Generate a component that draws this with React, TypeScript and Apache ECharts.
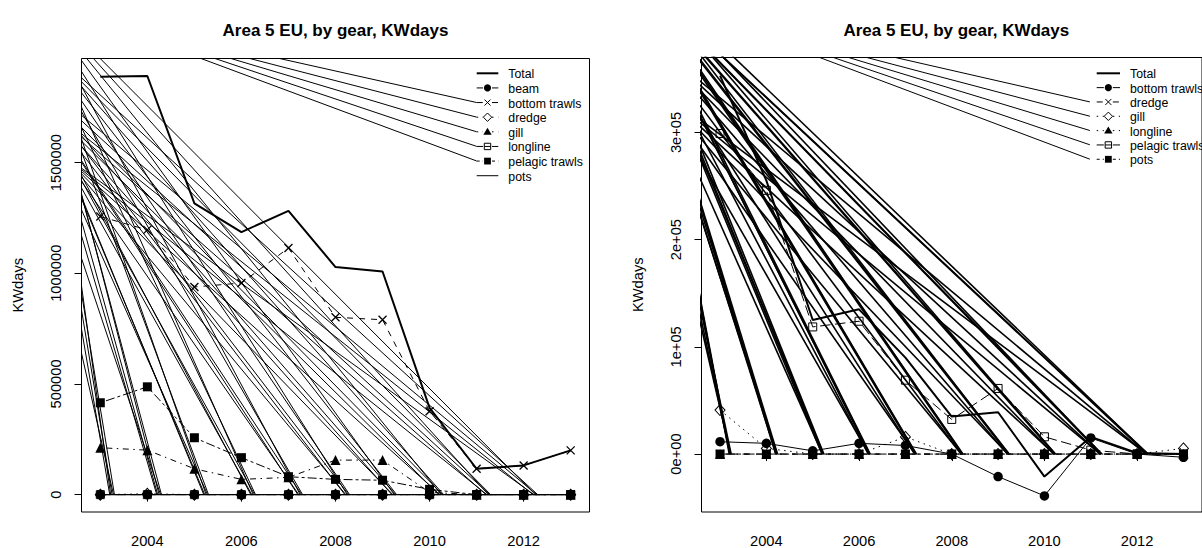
import React, { useEffect, useRef } from "react";
import * as echarts from "echarts";

// ---------- data ----------
const years = [2003, 2004, 2005, 2006, 2007, 2008, 2009, 2010, 2011, 2012, 2013];
const xTicks = [2004, 2006, 2008, 2010, 2012];
const chartTitle = "Area 5 EU, by gear, KWdays";
const yAxisTitle = "KWdays";

// left panel
const leftGears = ["Total", "beam", "bottom trawls", "dredge", "gill", "longline", "pelagic trawls", "pots"];
const leftTotal = [1888000, 1891000, 1316000, 1186000, 1282000, 1028000, 1008000, 392000, 117000, 132000, 200000];
const leftBeam = [0, 0, 0, 0, 0, 0, 0, 0, 0, 0, 0];
const leftBottomTrawls = [1256000, 1196000, 938000, 956000, 1114000, 801000, 790000, 377000, 117000, 132000, 200000];
const leftDredge = [0, 4000, 0, 0, 0, 0, 0, 0, 0, 0, 0];
const leftGill = [212000, 201000, 117000, 69000, 78000, 156000, 156000, 10000, 0, 0, 0];
const leftLongline = [0, 0, 0, 0, 0, 0, 0, 0, 0, 0, 0];
const leftPelagic = [415000, 487000, 257000, 167000, 81000, 69000, 65000, 24000, 0, 0, 0];
const leftPots = [0, 0, 0, 0, 0, 0, 0, 0, 0, 0, 0];
const leftYTicks = [0, 500000, 1000000, 1500000];
const leftYTickLabels = ["0", "500000", "1000000", "1500000"];

// right panel
const rightGears = ["Total", "bottom trawls", "dredge", "gill", "longline", "pelagic trawls", "pots"];
const rightTotal = [353000, 255000, 125000, 135000, 90000, 35000, 39000, -21000, 16000, 1000, 0];
const rightBottomTrawls = [11500, 10000, 3000, 10000, 8000, 0, -21000, -39000, 15000, 0, -3000];
const rightDredge = [0, 0, 0, 0, 0, 0, 0, 0, 0, 0, 0];
const rightGill = [41000, 5300, 0, 0, 16000, 0, 0, 0, 0, 0, 5300];
const rightLongline = [0, 0, 0, 0, 0, 0, 0, 0, 0, 0, 0];
const rightPelagic = [299000, 246000, 118600, 123900, 68900, 32300, 61200, 16100, 3700, 0, 0];
const rightPots = [0, 0, 0, 0, 0, 0, 0, 0, 0, 0, 0];
const rightYTicks = [0, 100000, 200000, 300000];
const rightYTickLabels = ["0e+00", "1e+05", "2e+05", "3e+05"];

// stray connector lines seen in the picture (data coordinates)
const fanEndYears = [2003, 2004, 2005, 2006, 2007, 2008, 2009, 2010, 2011, 2012];
const leftFanEndOffsets = [0.25, 0.3, 0.2, 0.22, 0.28];
const rightFanEndOffsets = [0.22, 0.24, 0.2, 0.23, 0.21];
const leftFanOrigins = [
  [2001.46, 2297100],
  [2001.72, 2053500],
  [2001.78, 1769200],
  [2002.21, 1534600],
  [2001.19, 1963200],
];
const leftLegendOrigins = [
  [2001.82, 2206900],
  [2001.29, 2238400],
  [2001.61, 2233900],
  [2000.98, 2288100],
  [2001.4, 2265600],
];
const leftFanLegendEnds = [
  [2011.0, 1771200],
  [2011.0, 1705200],
  [2011.0, 1639200],
  [2011.0, 1573200],
  [2011.0, 1507200],
];
const rightFanOrigins = [
  [2000.94, 456100],
  [2001.04, 452300],
  [2001.51, 386200],
  [2000.66, 479400],
  [2001.72, 339600],
];
const rightLegendOrigins = [
  [2001.83, 418800],
  [2001.3, 425300],
  [2001.61, 424400],
  [2000.98, 435600],
  [2001.4, 430900],
];
const rightFanLegendEnds = [
  [2010.98, 328460],
  [2010.98, 315100],
  [2010.98, 301780],
  [2010.98, 288460],
  [2010.98, 275040],
];

// ---------- styles ----------
const FONT = '"Liberation Sans", Arial, Helvetica, sans-serif';
const lineDashes: any[] = ["solid", "solid", [6, 6], [1.5, 4.5], [1.5, 4.5, 6, 4.5], [10.5, 4.5], [3, 3, 9, 3], "solid"];
const lineWidths = [2, 1, 1, 1, 1, 1, 1, 1];
const markerKinds = ["none", "dot", "cross", "diamond", "triangle", "openSquare", "square", "none"];
const CLEAR = "rgba(255,255,255,0)";

function symbolOpts(kind: string) {
  switch (kind) {
    case "dot":
      return { symbol: "circle", symbolSize: 9.5, itemStyle: { color: "#000", borderWidth: 0 } };
    case "cross":
      return {
        symbol: "path://M0,0L10,10M10,0L0,10",
        symbolSize: 8,
        itemStyle: { color: CLEAR, borderColor: "#000", borderWidth: 1.3 },
      };
    case "diamond":
      return { symbol: "diamond", symbolSize: [10, 11], itemStyle: { color: CLEAR, borderColor: "#000", borderWidth: 1 } };
    case "triangle":
      return { symbol: "triangle", symbolSize: 10, itemStyle: { color: "#000", borderWidth: 0 } };
    case "openSquare":
      return { symbol: "rect", symbolSize: 8, itemStyle: { color: CLEAR, borderColor: "#000", borderWidth: 1 } };
    case "square":
      return { symbol: "rect", symbolSize: 9, itemStyle: { color: "#000", borderWidth: 0 } };
    default:
      return { symbol: "none", showSymbol: false, itemStyle: { color: "#000" } };
  }
}

function legendMarker(kind: string, cx: number, cy: number): any[] {
  switch (kind) {
    case "dot":
      return [{ type: "circle", shape: { cx, cy, r: 3.6 }, style: { fill: "#000" } }];
    case "cross":
      return [
        { type: "line", shape: { x1: cx - 3, y1: cy - 3, x2: cx + 3, y2: cy + 3 }, style: { stroke: "#000", lineWidth: 1 } },
        { type: "line", shape: { x1: cx + 3, y1: cy - 3, x2: cx - 3, y2: cy + 3 }, style: { stroke: "#000", lineWidth: 1 } },
      ];
    case "diamond":
      return [
        {
          type: "polygon",
          shape: { points: [[cx, cy - 4.2], [cx + 4.2, cy], [cx, cy + 4.2], [cx - 4.2, cy]] },
          style: { fill: "#fff", stroke: "#000", lineWidth: 1 },
        },
      ];
    case "triangle":
      return [{ type: "polygon", shape: { points: [[cx, cy - 4], [cx + 4.2, cy + 3], [cx - 4.2, cy + 3]] }, style: { fill: "#000" } }];
    case "openSquare":
      return [
        { type: "rect", shape: { x: cx - 3.2, y: cy - 3.2, width: 6.4, height: 6.4 }, style: { fill: "#fff", stroke: "#000", lineWidth: 1 } },
        { type: "line", shape: { x1: cx - 3.2, y1: cy, x2: cx + 3.2, y2: cy }, style: { stroke: "#000", lineWidth: 1 } },
      ];
    case "square":
      return [{ type: "rect", shape: { x: cx - 3.4, y: cy - 3.4, width: 6.8, height: 6.8 }, style: { fill: "#000" } }];
    default:
      return [];
  }
}

function buildLegend(names: string[], styleIdx: number[], x0: number, x1: number, textX: number, rowY0: number, rowGap: number) {
  const els: any[] = [];
  names.forEach((name, i) => {
    const s = styleIdx[i];
    const cy = rowY0 + i * rowGap;
    const cx = (x0 + x1) / 2;
    const dash = lineDashes[s] === "solid" ? null : lineDashes[s];
    const kind = markerKinds[s];
    const lw = lineWidths[s];
    if (kind === "none") {
      els.push({ type: "line", shape: { x1: x0, y1: cy, x2: x1, y2: cy }, style: { stroke: "#000", lineWidth: lw, lineDash: dash } });
    } else {
      els.push({ type: "line", shape: { x1: x0, y1: cy, x2: cx - 4.5, y2: cy }, style: { stroke: "#000", lineWidth: lw, lineDash: dash } });
      els.push({ type: "line", shape: { x1: cx + 4.5, y1: cy, x2: x1, y2: cy }, style: { stroke: "#000", lineWidth: lw, lineDash: dash } });
    }
    legendMarker(kind, cx, cy).forEach((m) => els.push(m));
    els.push({
      type: "text",
      x: textX,
      y: cy + 1,
      style: {
        text: name,
        fill: "#000",
        font: `12.3px ${FONT}`,
        align: "left",
        verticalAlign: "middle",
        textAlign: "left",
        textVerticalAlign: "middle",
      },
    });
  });
  return els;
}

function fanSegments(origins: number[][], offsets: number[]) {
  const segs: any[] = [];
  origins.forEach((o, k) => {
    fanEndYears.forEach((yr) => {
      segs.push({ coords: [o, [yr + offsets[k], 0]] });
    });
  });
  return segs;
}

function legendSegments(origins: number[][], legendEnds: number[][]) {
  return origins.map((o, k) => ({ coords: [o, legendEnds[k]] }));
}

function linesSeries(axis: number, width: number, data: any[]) {
  return {
    type: "lines",
    coordinateSystem: "cartesian2d",
    xAxisIndex: axis,
    yAxisIndex: axis,
    polyline: false,
    clip: true,
    silent: true,
    lineStyle: { color: "#000", width, opacity: 1, curveness: 0 },
    data,
    z: 1,
  };
}

export default function App() {
  const ref = useRef<HTMLDivElement>(null);

  useEffect(() => {
    if (!ref.current) return;
    const chart = echarts.init(ref.current, null, { renderer: "svg" });

    const leftValues = [leftTotal, leftBeam, leftBottomTrawls, leftDredge, leftGill, leftLongline, leftPelagic, leftPots];
    const leftStyleIdx = [0, 1, 2, 3, 4, 5, 6, 7];
    const rightValues = [rightTotal, rightBottomTrawls, rightDredge, rightGill, rightLongline, rightPelagic, rightPots];
    const rightStyleIdx = [0, 1, 2, 3, 4, 5, 6];

    const mkSeries = (names: string[], vals: number[][], styleIdx: number[], axis: number) =>
      names.map((name, i) => {
        const s = styleIdx[i];
        const so: any = symbolOpts(markerKinds[s]);
        return {
          type: "line",
          name,
          xAxisIndex: axis,
          yAxisIndex: axis,
          data: years.map((y, j) => [y, vals[i][j]]),
          showAllSymbol: true,
          ...so,
          lineStyle: { color: "#000", width: lineWidths[s], type: lineDashes[s] },
          silent: true,
          z: 3,
        };
      });

    const commonX = (gridIndex: number) => ({
      type: "value",
      gridIndex,
      min: 2002.6,
      max: 2013.4,
      splitLine: { show: false },
      axisLine: { show: false },
      axisTick: { show: true, length: 7, customValues: xTicks, lineStyle: { color: "#000", width: 1 } },
      axisLabel: {
        customValues: xTicks,
        formatter: (v: number) => String(v),
        color: "#000",
        fontSize: 14.7,
        fontFamily: FONT,
        margin: 21,
      },
    });

    const mkY = (gridIndex: number, min: number, max: number, ticks: number[], labels: string[]) => ({
      type: "value",
      gridIndex,
      min,
      max,
      splitLine: { show: false },
      axisLine: { show: false },
      name: yAxisTitle,
      nameLocation: "middle",
      nameGap: 56,
      nameRotate: 90,
      nameTextStyle: { color: "#000", fontSize: 14.7, fontFamily: FONT },
      axisTick: { show: true, length: 7, customValues: ticks, lineStyle: { color: "#000", width: 1 } },
      axisLabel: {
        customValues: ticks,
        rotate: 90,
        formatter: (v: number) => {
          const idx = ticks.indexOf(v);
          return idx >= 0 ? labels[idx] : "";
        },
        color: "#000",
        fontSize: 14.7,
        fontFamily: FONT,
        margin: 18,
      },
    });

    const titleText = (x: number) => ({
      type: "text",
      x,
      y: 30,
      style: {
        text: chartTitle,
        fill: "#000",
        font: `bold 17px ${FONT}`,
        align: "center",
        verticalAlign: "middle",
        textAlign: "center",
        textVerticalAlign: "middle",
      },
    });

    const graphics: any[] = [
      titleText(335.5),
      titleText(956.3),
      ...buildLegend(leftGears, leftStyleIdx, 476.7, 498.3, 508.3, 73.3, 14.63),
      ...buildLegend(rightGears, rightStyleIdx, 1096.7, 1120, 1130, 73.3, 14.33),
    ];

    chart.setOption({
      animation: false,
      backgroundColor: "#fff",
      textStyle: { fontFamily: FONT },
      grid: [
        { left: 81.5, top: 58.5, width: 508, height: 454, show: true, borderColor: "#000", borderWidth: 1, backgroundColor: "transparent" },
        { left: 701.5, top: 57.5, width: 509.5, height: 455, show: true, borderColor: "#000", borderWidth: 1, backgroundColor: "transparent" },
      ],
      xAxis: [commonX(0), commonX(1)],
      yAxis: [
        mkY(0, -78400, 1970000, leftYTicks, leftYTickLabels),
        mkY(1, -54038, 369880, rightYTicks, rightYTickLabels),
      ],
      series: [
        linesSeries(0, 1, fanSegments(leftFanOrigins, leftFanEndOffsets)),
        linesSeries(0, 1, legendSegments(leftLegendOrigins, leftFanLegendEnds)),
        linesSeries(1, 1.6, fanSegments(rightFanOrigins, rightFanEndOffsets)),
        linesSeries(1, 1, legendSegments(rightLegendOrigins, rightFanLegendEnds)),
        ...mkSeries(leftGears, leftValues, leftStyleIdx, 0),
        ...mkSeries(rightGears, rightValues, rightStyleIdx, 1),
      ],
      graphic: graphics,
    });

    return () => {
      chart.dispose();
    };
  }, []);

  return <div ref={ref} style={{ position: "absolute", left: 0, top: 0, width: 1202, height: 548, background: "#fff" }} />;
}
